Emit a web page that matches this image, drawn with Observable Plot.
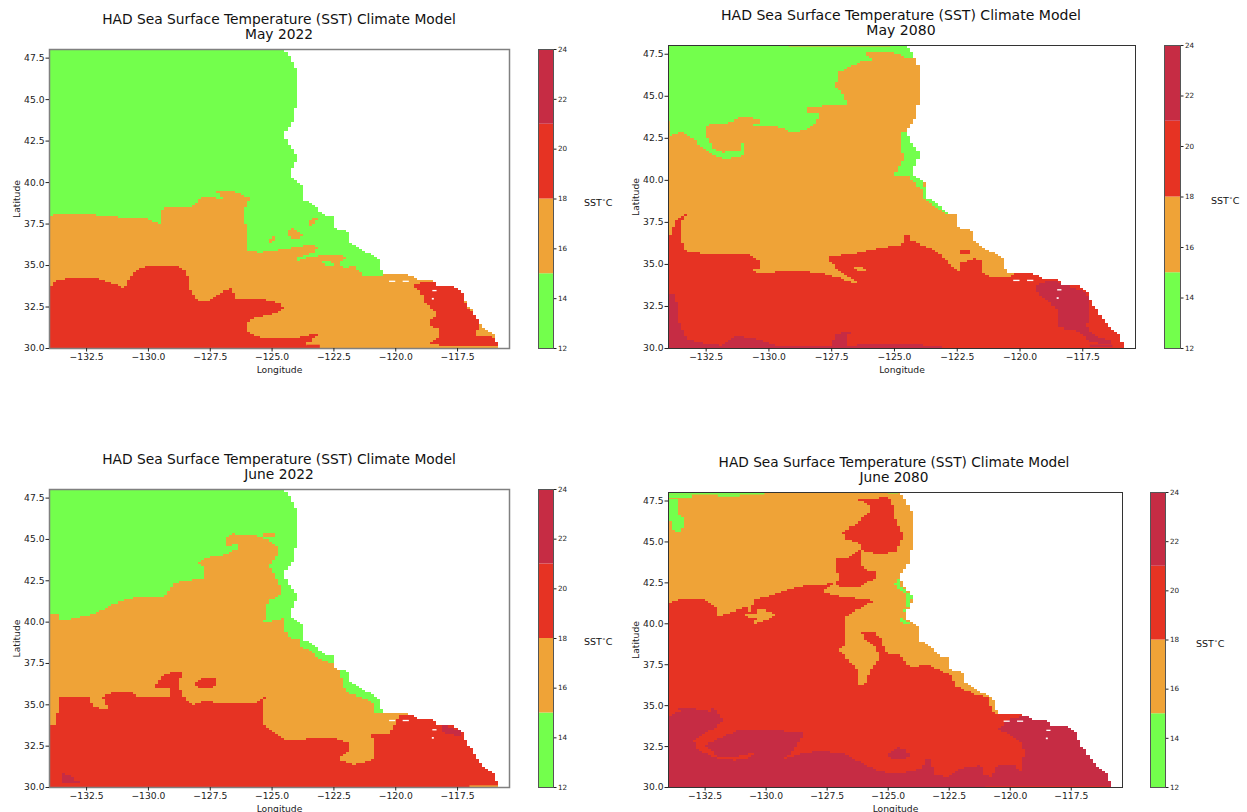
<!DOCTYPE html>
<html>
<head>
<meta charset="utf-8">
<script src="https://cdn.jsdelivr.net/npm/d3@7"></script>
<script src="https://cdn.jsdelivr.net/npm/@observablehq/plot@0.6"></script>
<style>
html,body{margin:0;padding:0;background:#fff;}
#page{position:relative;width:1247px;height:812px;overflow:hidden;font-family:"DejaVu Sans",sans-serif;color:#111;}
#page svg{position:absolute;background:transparent;}
.title{position:absolute;text-align:center;line-height:15px;white-space:nowrap;transform:translateX(-50%);}
.unit{position:absolute;font-size:9.5px;white-space:nowrap;}
.unit sup{font-size:6px;line-height:0;}
</style>
</head>
<body>
<div id="page"></div>
<script>
// SST bands (deg C) and their colours
const bandNames = ["12-15", "15-18", "18-21", "21-24"];
const bandLow = [12, 15, 18, 21];
const bandHigh = [15, 18, 21, 24];
const bandColors = ["#73ff4c", "#efa337", "#e63323", "#c62c44"];
const colorbarTicks = [12, 14, 16, 18, 20, 22, 24];
const lonTicks = [-132.5, -130, -127.5, -125, -122.5, -120, -117.5];
const latTicks = [30, 32.5, 35, 37.5, 40, 42.5, 45, 47.5];
const [G, O, R, D] = bandNames;

const sea = [[-134.05,48.5],[-115,48.5],[-115,30],[-134.05,30]];
const land = [[-124.53,48.5],[-124.53,48],[-124.26,47.46],[-124.1,46.96],[-123.94,46.66],[-123.94,45.05],[-124.1,44.35],[-124.15,43.65],[-124.34,43.25],[-124.5,42.88],[-124.39,42.34],[-124.18,41.94],[-124.02,41.64],[-124.05,41.2],[-124.26,40.64],[-124.29,40.33],[-123.86,39.93],[-123.73,39.63],[-123.73,38.93],[-123.22,38.53],[-122.93,38.03],[-122.5,37.93],[-122.45,37.22],[-121.83,36.98],[-121.86,36.38],[-121.3,35.82],[-120.82,35.52],[-120.61,35.22],[-120.53,34.52],[-119.54,34.48],[-119.06,34.11],[-118.45,34.07],[-118.42,33.81],[-117.62,33.67],[-117.3,33.35],[-117.17,32.71],[-116.9,32.21],[-116.63,31.6],[-116.26,31.0],[-116.02,30.8],[-115.99,30.4],[-115.88,30.36],[-115.88,30],[-115,30],[-115,48.5]];
// small holes in the sea field: lon0, lon1, lat0, lat1
const holes = [[-120.25,-120.0,33.98,34.06],[-119.7,-119.45,33.98,34.06],[-118.5,-118.33,33.42,33.5],[-118.52,-118.44,32.92,33.02]];

// May 2022
const may22Orange = [[-134.05,37.53],[-133.94,38.03],[-133.62,38.17],[-132.58,38.13],[-131.22,37.93],[-130.1,37.87],[-129.7,37.57],[-129.46,37.53],[-129.5,38.43],[-128.34,38.49],[-127.78,39.19],[-127.38,39.13],[-126.9,38.87],[-127.22,39.49],[-126.42,39.43],[-125.86,38.99],[-126.13,38.23],[-126.02,37.12],[-125.97,35.92],[-125.54,35.78],[-124.82,35.92],[-123.7,36.22],[-123.14,36.18],[-123.22,35.82],[-123.94,35.42],[-123.94,35.28],[-123.38,35.52],[-122.26,35.68],[-122.02,35.32],[-122.42,35.12],[-121.97,34.82],[-121.78,35.02],[-121.54,34.72],[-121.3,34.37],[-120.53,34.37],[-120.5,34.5],[-115,34.5],[-115,30],[-134.05,30]];
const may22OrangeA = [[-125.22,36.42],[-124.98,36.72],[-124.85,36.76],[-124.98,36.36]];
const may22OrangeB = [[-124.47,36.92],[-124.21,37.22],[-123.7,36.76],[-124.1,36.56]];
const may22OrangeC = [[-123.62,37.26],[-123.41,37.83],[-123.14,37.89],[-123.3,37.48]];
const may22GreenNotch = [[-123.0,35.2],[-122.6,35.25],[-122.55,35.05],[-122.85,35.0]];
const may22Red = [[-134.05,33.55],[-133.86,34.01],[-133.3,34.25],[-132.18,34.25],[-131.54,33.95],[-130.98,33.55],[-130.9,34.01],[-130.5,34.72],[-130.02,35.06],[-128.9,35.02],[-128.5,34.62],[-128.37,34.01],[-128.31,33.41],[-127.94,32.87],[-127.54,32.91],[-127.06,33.41],[-126.58,33.67],[-126.55,33.05],[-125.46,32.97],[-124.82,32.81],[-124.47,32.41],[-124.82,32.11],[-125.62,31.87],[-125.97,31.6],[-125.99,31.0],[-125.54,30.66],[-124.02,30.66],[-122.98,30.96],[-123.62,30.2],[-123.54,30],[-134.05,30]];
const may22RedEast = [[-119.19,33.91],[-118.42,34.05],[-117.62,33.71],[-117.27,33.31],[-117.14,32.41],[-116.74,32.0],[-116.63,31.6],[-116.74,30.7],[-116.18,30.74],[-115.83,30.3],[-115.83,30.1],[-117.94,30.1],[-118.74,30.3],[-118.26,30.7],[-118.23,31.2],[-118.66,31.4],[-118.58,31.8],[-118.26,32.0],[-118.66,32.6],[-118.82,32.8],[-118.9,33.31],[-119.22,33.71]];
const may22Patch = [[O,-117.95,-115.8,30,30.1],[R,-123.6,-123.05,30,30.2]];

// May 2080
const may80Orange = [[-134.05,42.58],[-133.56,42.88],[-133.25,42.68],[-132.93,42.29],[-132.29,41.55],[-131.86,41.25],[-131.07,41.43],[-130.98,42.2],[-131.1,42.2],[-131.18,41.78],[-131.86,41.66],[-132.18,41.9],[-132.46,42.67],[-132.46,43.3],[-132.38,43.33],[-131.7,43.38],[-131.1,43.8],[-130.6,43.68],[-130.27,43.45],[-130.6,43.3],[-129.67,43.18],[-129.01,42.82],[-128.48,43.08],[-127.93,43.78],[-128.09,44.07],[-128.56,43.98],[-128.52,44.37],[-127.69,44.47],[-126.9,44.57],[-127.13,45.37],[-127.37,45.67],[-127.21,46.46],[-126.42,47.06],[-125.87,47.16],[-126.23,47.65],[-125.15,47.65],[-124.48,47.2],[-115,47.2],[-115,30],[-134.05,30]];
const may80GreenA = [[-124.7,42.9],[-124.75,42],[-124.64,41.2],[-124.83,40.8],[-125,40.3],[-124.35,40.28],[-124.0,40.2],[-123.9,41.5],[-123.9,42.9]];
const may80GreenB = [[-124.35,40.28],[-123.9,39.95],[-123.65,39.0],[-123.2,38.7],[-122.85,37.9],[-123.25,38.35],[-123.8,38.87],[-123.88,39.5],[-124.35,40.12]];
const may80Red = [[-134.05,36.42],[-133.88,37.02],[-133.72,37.61],[-133.32,38.01],[-132.96,38.15],[-133.25,37.91],[-133.48,37.61],[-133.53,36.62],[-133.33,35.83],[-132.77,35.67],[-130.87,35.63],[-130.39,35.23],[-130.36,34.83],[-130.63,34.73],[-130.47,34.47],[-129.28,34.63],[-128.01,34.53],[-127.06,34.13],[-126.66,33.84],[-126.5,33.84],[-126.58,34.08],[-127.21,34.63],[-127.69,35.43],[-126.42,35.73],[-125.63,35.98],[-124.67,36.22],[-124.67,36.72],[-124.39,36.82],[-124.36,36.42],[-123.41,35.83],[-122.45,34.53],[-122.33,35.13],[-121.82,35.33],[-121.5,35.13],[-121.42,34.33],[-120.47,34.2],[-120.31,34.47],[-115,34.47],[-115,30],[-134.05,30]];
const may80OrangeHole = [[-126.66,34.89],[-126.42,34.93],[-125.98,34.59],[-126.42,34.59]];
const may80RedSmall = [[-122.37,35.83],[-122.0,35.83],[-122.0,35.67],[-122.3,35.63]];
const may80DarkEast = [[-119.4,33.74],[-118.96,33.98],[-118.52,33.94],[-118.09,33.74],[-117.37,33.34],[-117.25,32.74],[-117.21,31.55],[-117.37,31.35],[-117.05,30.76],[-116.42,30.46],[-116.42,30.26],[-117.13,30.36],[-117.69,31.05],[-118.56,31.29],[-118.48,32.25],[-118.88,32.84],[-119.28,33.34]];
const may80DarkWest = [[-134.05,33.24],[-133.72,33.24],[-133.64,31.85],[-133.48,31.15],[-133.17,30.46],[-131.98,30.16],[-131.34,30.76],[-130.55,30.56],[-129.75,30.16],[-127.53,30.16],[-127.37,30.85],[-126.74,31.05],[-126.9,30.76],[-126.82,30.16],[-125.79,30.26],[-123.09,30.16],[-123.09,30],[-134.05,30]];
const may80Patch = [[O,-129.2,-125.15,47.93,48.05],[O,-134,-133.93,42.6,43.5],[D,-117.2,-116.3,30.05,30.2]];

// June 2022
const jun22Orange = [[-134.05,38.27],[-133.94,40.44],[-133.7,40.44],[-133.62,40.18],[-133.14,40.18],[-132.18,40.52],[-131.22,41.25],[-130.58,41.45],[-129.38,41.49],[-128.98,42.4],[-127.78,42.66],[-127.73,43.31],[-127.94,43.61],[-127.7,43.91],[-126.82,44.11],[-126.74,44.52],[-126.93,45.02],[-126.58,45.32],[-125.78,45.22],[-125.3,45.02],[-124.74,44.52],[-124.74,44.01],[-125.14,43.41],[-124.9,42.9],[-124.66,42.1],[-124.66,41.59],[-125.3,41.09],[-125.22,40.48],[-125.33,39.98],[-124.5,40.24],[-124.42,39.07],[-123.86,39.03],[-123.86,38.47],[-123.46,38.27],[-123.06,37.66],[-122.42,37.46],[-122.1,36.35],[-122.18,36.15],[-121.94,35.75],[-120.9,35.14],[-120.82,34.54],[-119.54,34.54],[-115,34.54],[-115,30],[-134.05,30]];
const jun22GreenHole = [[-126.82,44.52],[-126.42,44.82],[-126.37,44.48],[-126.66,44.25]];
const jun22OrangeIsle = [[-125.33,45.36],[-124.85,45.42],[-124.85,45.12],[-125.33,45.12]];
const jun22Red = [[-134.05,33.69],[-133.73,33.83],[-133.62,35.54],[-133.14,35.44],[-132.42,35.44],[-132.26,34.94],[-131.86,34.74],[-131.62,34.78],[-131.83,35.54],[-131.38,35.74],[-130.74,35.74],[-130.34,35.48],[-129.17,35.48],[-129.1,35.95],[-129.81,35.95],[-129.46,36.75],[-128.98,37.06],[-128.53,37.06],[-128.82,36.25],[-128.58,35.44],[-128.26,35.0],[-127.86,35.24],[-126.58,35.08],[-125.78,35.14],[-125.3,35.44],[-125.43,35.14],[-125.3,33.63],[-124.5,32.82],[-122.74,33.06],[-121.86,32.72],[-121.86,32.22],[-122.34,31.71],[-121.7,31.41],[-120.82,31.77],[-120.95,33.23],[-120.26,33.27],[-119.86,34.33],[-119.3,34.4],[-115,34.4],[-115,30],[-134.05,30]];
const jun22RedIsle = [[-128.15,36.35],[-127.86,36.65],[-127.38,36.65],[-127.14,36.35],[-127.38,36.05],[-127.94,36.01]];
const jun22DarkWest = [[-133.54,30.85],[-133.22,30.71],[-132.74,30.2],[-133.54,30.2]];
const jun22DarkEast = [[-118.18,33.73],[-117.94,33.73],[-117.3,33.33],[-117.38,33.06],[-117.7,33.23],[-118.02,33.33]];
const jun22Patch = [[O,-117,-115.8,30,30.1]];

// June 2080
const jun80GreenCorner = [[-134.05,47.65],[-133.67,47.65],[-133.67,46.7],[-133.43,46.44],[-133.38,45.89],[-133.59,45.56],[-133.84,45.72],[-133.97,46.44],[-134.05,47.15]];
const jun80GreenCoast = [[-124.7,42.46],[-124.54,42.76],[-124.46,42.25],[-124.05,41.64],[-124.08,41.23],[-124.34,40.62],[-124.46,40.31],[-123.97,39.94],[-124.46,40.1],[-124.34,40.82],[-124.21,41.23],[-124.29,41.84],[-124.62,42.25]];
const jun80Red = [[-134.05,40.52],[-134,41.23],[-133.43,41.54],[-132.53,41.48],[-132.04,40.92],[-131.96,40.48],[-131.23,40.82],[-130.82,41.03],[-130.74,40.62],[-130.49,41.44],[-129.6,41.84],[-128.62,42.31],[-127.64,42.42],[-127.15,42.5],[-127.67,42.05],[-127.56,41.84],[-126.82,41.64],[-125.55,41.39],[-126.17,40.92],[-126.74,40.41],[-126.77,38.68],[-126.99,38.37],[-126.58,37.66],[-126.25,37.15],[-126.2,36.23],[-126.01,36.23],[-125.68,37.35],[-125.35,37.95],[-125.52,38.58],[-126.01,39.09],[-126.09,39.5],[-125.6,39.5],[-125.27,38.98],[-125.06,38.17],[-125.0,38.07],[-124.54,38.17],[-124.13,37.35],[-123.4,37.51],[-122.42,36.84],[-122.26,36.23],[-121.6,35.72],[-120.87,35.47],[-120.87,35.11],[-120.62,34.49],[-119.56,34.49],[-115,34.49],[-115,30],[-134.05,30]];
const jun80RedLobeLow = [[-127.15,43.93],[-126.5,44.13],[-126.17,44.5],[-126.09,44.19],[-126.17,43.48],[-125.52,43.17],[-125.52,42.76],[-126.17,42.31],[-126.9,42.25],[-127.15,42.5],[-126.99,42.87],[-127.15,43.38]];
const jun80RedLobeHigh = [[-126.25,47.56],[-125.19,47.72],[-124.87,47.66],[-124.7,46.33],[-124.38,45.42],[-124.62,44.4],[-125.19,44.23],[-126.01,44.4],[-126.17,44.7],[-126.17,44.9],[-126.74,45.21],[-126.86,45.68],[-126.17,46.33],[-125.68,47.05],[-125.84,47.36]];
const jun80OrangeInlet = [[-130.82,40.62],[-130.49,40.62],[-130.28,40.92],[-129.56,40.57],[-130.0,40.21],[-130.66,39.97],[-130.33,40.31],[-130.82,40.5]];
const jun80Dark = [[-134.05,34.29],[-133.54,34.7],[-133.59,34.84],[-132.7,34.8],[-132.24,34.6],[-132.24,34.96],[-132.0,34.6],[-131.72,34.08],[-132.2,33.47],[-131.23,33.53],[-129.43,33.47],[-128.37,33.27],[-128.78,32.55],[-129.19,31.8],[-128.54,32.14],[-127.8,32.25],[-126.82,32.08],[-126.01,31.43],[-125.35,30.98],[-124.54,30.82],[-123.72,31.12],[-123.4,31.84],[-123.23,31.74],[-123.15,30.82],[-122.58,30.65],[-121.93,31.23],[-121.2,31.33],[-121.15,30.82],[-120.82,30.61],[-120.54,31.33],[-119.81,31.33],[-119.56,30.92],[-119.4,32.25],[-119.51,32.76],[-120.46,33.57],[-120.05,34.19],[-119.48,34.39],[-118.42,34.04],[-115,34.04],[-115,30],[-134.05,30]];
const jun80RedRing = [[-132.2,33.51],[-132.94,32.76],[-132.86,32.35],[-132.04,31.8],[-131.31,31.67],[-130.66,31.84],[-130.33,32.55],[-130.49,32.14],[-131.31,31.84],[-131.88,31.84],[-132.48,32.61],[-131.23,33.47]];
const jun80DarkIsle = [[-124.95,32.14],[-124.62,32.45],[-124.21,32.35],[-124.16,31.84],[-124.62,31.67],[-124.95,31.94]];
const jun80Patch = [[G,-134.05,-130.05,47.87,48.05],[G,-131.96,-131.06,47.73,47.87],[G,-134.05,-133.02,47.65,47.87],[G,-125,-124.57,47.93,48.05],[R,-121,-115.9,30,30.04]];

const panels = [
  {title:"May 2022", titleSize:13.8, left:49, top:49, w:460, h:299, cx:279, ty:12, barX:538, barW:15, unitX:584, unitY:197, frameColor:"#808080", frameWidth:1.5,
   layers:[[G,sea],[O,may22Orange],[O,may22OrangeA],[O,may22OrangeB],[O,may22OrangeC],[G,may22GreenNotch],[R,may22Red],[R,may22RedEast]], patches:may22Patch},
  {title:"May 2080", titleSize:14.05, left:668, top:45, w:467, h:303, cx:901, ty:8, barX:1164, barW:16, unitX:1211, unitY:195, frameColor:"#333", frameWidth:1,
   layers:[[G,sea],[O,may80Orange],[G,may80GreenA],[G,may80GreenB],[R,may80Red],[O,may80OrangeHole],[R,may80RedSmall],[D,may80DarkEast],[D,may80DarkWest]], patches:may80Patch},
  {title:"June 2022", titleSize:13.8, left:49, top:489, w:460, h:298, cx:279, ty:452, barX:538, barW:15, unitX:584, unitY:636, frameColor:"#808080", frameWidth:1.5,
   layers:[[G,sea],[O,jun22Orange],[G,jun22GreenHole],[O,jun22OrangeIsle],[R,jun22Red],[R,jun22RedIsle],[D,jun22DarkWest],[D,jun22DarkEast]], patches:jun22Patch},
  {title:"June 2080", titleSize:13.7, left:668, top:492, w:454, h:295, cx:894, ty:455, barX:1150, barW:15, unitX:1196, unitY:638, frameColor:"#333", frameWidth:1,
   layers:[[O,sea],[G,jun80GreenCorner],[G,jun80GreenCoast],[R,jun80Red],[R,jun80RedLobeLow],[R,jun80RedLobeHigh],[O,jun80OrangeInlet],[D,jun80Dark],[R,jun80RedRing],[D,jun80DarkIsle]], patches:jun80Patch}
];

const lonDomain = [-134, -115.4];
const latDomain = [30, 48.02];
const cellDeg = 0.125;
const textColor = "#222";

// The model grid: walk each outline across grid cells so edges come out stepped like the source cells
function gridCurve(cw, ch, ox, oy) {
  return (ctx) => {
    let started, x0, y0, fx, fy, px, py;
    const sx = (x) => ox + Math.round((x - ox) / cw) * cw;
    const sy = (y) => oy + Math.round((y - oy) / ch) * ch;
    const walk = (x, y) => {
      const n = Math.max(1, Math.ceil(Math.max(Math.abs(x - x0) / cw, Math.abs(y - y0) / ch) * 2));
      for (let i = 1; i <= n; ++i) {
        const qx = sx(x0 + (x - x0) * i / n), qy = sy(y0 + (y - y0) * i / n);
        if (qx !== px) ctx.lineTo(qx, py);
        if (qy !== py) ctx.lineTo(qx, qy);
        px = qx; py = qy;
      }
      x0 = x; y0 = y;
    };
    return {
      areaStart() {}, areaEnd() {},
      lineStart() { started = false; },
      lineEnd() { if (started) { walk(fx, fy); ctx.closePath(); } },
      point(x, y) {
        x = +x; y = +y;
        if (!started) {
          started = true; fx = x0 = x; fy = y0 = y; px = sx(x); py = sy(y);
          ctx.moveTo(px, py);
        } else walk(x, y);
      }
    };
  };
}

const page = document.getElementById("page");
const ml = 49, mt = 6, mb = 30, mr = 6;

panels.forEach((p) => {
  const rows = [];
  p.layers.forEach(([band, ring], id) => ring.forEach(([lon, lat]) => rows.push({id, band, lon, lat})));
  const patchRows = p.patches.map(([band, x1, x2, y1, y2]) => ({band, x1, x2, y1, y2}));
  const holeRows = holes.map(([x1, x2, y1, y2]) => ({x1, x2, y1, y2}));
  const landRows = land.map(([lon, lat]) => ({lon, lat}));
  const cw = p.w / (lonDomain[1] - lonDomain[0]) * cellDeg;
  const ch = p.h / (latDomain[1] - latDomain[0]) * cellDeg;
  const curve = gridCurve(cw, ch, ml, mt + p.h);

  const map = Plot.plot({
    width: p.w + ml + mr, height: p.h + mt + mb,
    marginLeft: ml, marginRight: mr, marginTop: mt, marginBottom: mb,
    style: {fontFamily: '"DejaVu Sans", sans-serif', fontSize: "9.2px", color: textColor, background: "transparent"},
    x: {domain: lonDomain},
    y: {domain: latDomain},
    color: {type: "ordinal", domain: bandNames, range: bandColors},
    marks: [
      Plot.line(rows, {x: "lon", y: "lat", z: "id", fill: "band", stroke: "none", curve, clip: true, shapeRendering: "crispEdges"}),
      Plot.rect(patchRows, {x1: "x1", x2: "x2", y1: "y1", y2: "y2", fill: "band", clip: true, inset: 0}),
      Plot.line(landRows, {x: "lon", y: "lat", fill: "white", stroke: "none", curve, clip: true, shapeRendering: "crispEdges"}),
      Plot.rect(holeRows, {x1: "x1", x2: "x2", y1: "y1", y2: "y2", fill: "white", inset: 0}),
      Plot.frame({stroke: p.frameColor, strokeWidth: p.frameWidth}),
      Plot.axisX({ticks: lonTicks, tickFormat: d3.format(".1f"), tickSize: 3.5, tickPadding: 1.5, label: "Longitude", labelAnchor: "center", labelOffset: 24, labelArrow: "none", fontVariant: "normal"}),
      Plot.axisY({ticks: latTicks, tickFormat: d3.format(".1f"), tickSize: 3.5, tickPadding: 1.5, label: "Latitude", labelAnchor: "center", labelOffset: 36, labelArrow: "none", fontVariant: "normal"})
    ]
  });
  map.style.left = (p.left - ml) + "px";
  map.style.top = (p.top - mt) + "px";
  page.appendChild(map);

  const bar = Plot.plot({
    width: p.barW + 30, height: p.h + 12,
    marginLeft: 1, marginRight: 29, marginTop: 6, marginBottom: 6,
    style: {fontFamily: '"DejaVu Sans", sans-serif', fontSize: "7.2px", color: textColor, background: "transparent"},
    x: {domain: [0, 1], axis: null},
    y: {domain: [12, 24]},
    color: {type: "ordinal", domain: bandNames, range: bandColors},
    marks: [
      Plot.rect(bandNames, {x1: () => 0, x2: () => 1, y1: (d, i) => bandLow[i], y2: (d, i) => bandHigh[i], fill: (d) => d, inset: 0}),
      Plot.frame({stroke: "#555", strokeWidth: 1}),
      Plot.axisY({anchor: "right", ticks: colorbarTicks, tickFormat: d3.format("d"), tickSize: 2.5, tickPadding: 2, label: null})
    ]
  });
  bar.style.left = (p.barX - 1) + "px";
  bar.style.top = (p.top - 6) + "px";
  page.appendChild(bar);

  const title = document.createElement("div");
  title.className = "title";
  title.style.left = p.cx + "px";
  title.style.top = p.ty + "px";
  title.style.fontSize = p.titleSize + "px";
  title.innerHTML = "HAD Sea Surface Temperature (SST) Climate Model<br>" + p.title;
  page.appendChild(title);

  const unit = document.createElement("div");
  unit.className = "unit";
  unit.style.left = p.unitX + "px";
  unit.style.top = p.unitY + "px";
  unit.innerHTML = "SST<sup>&#8728;</sup>C";
  page.appendChild(unit);
});
</script>
</body>
</html>
